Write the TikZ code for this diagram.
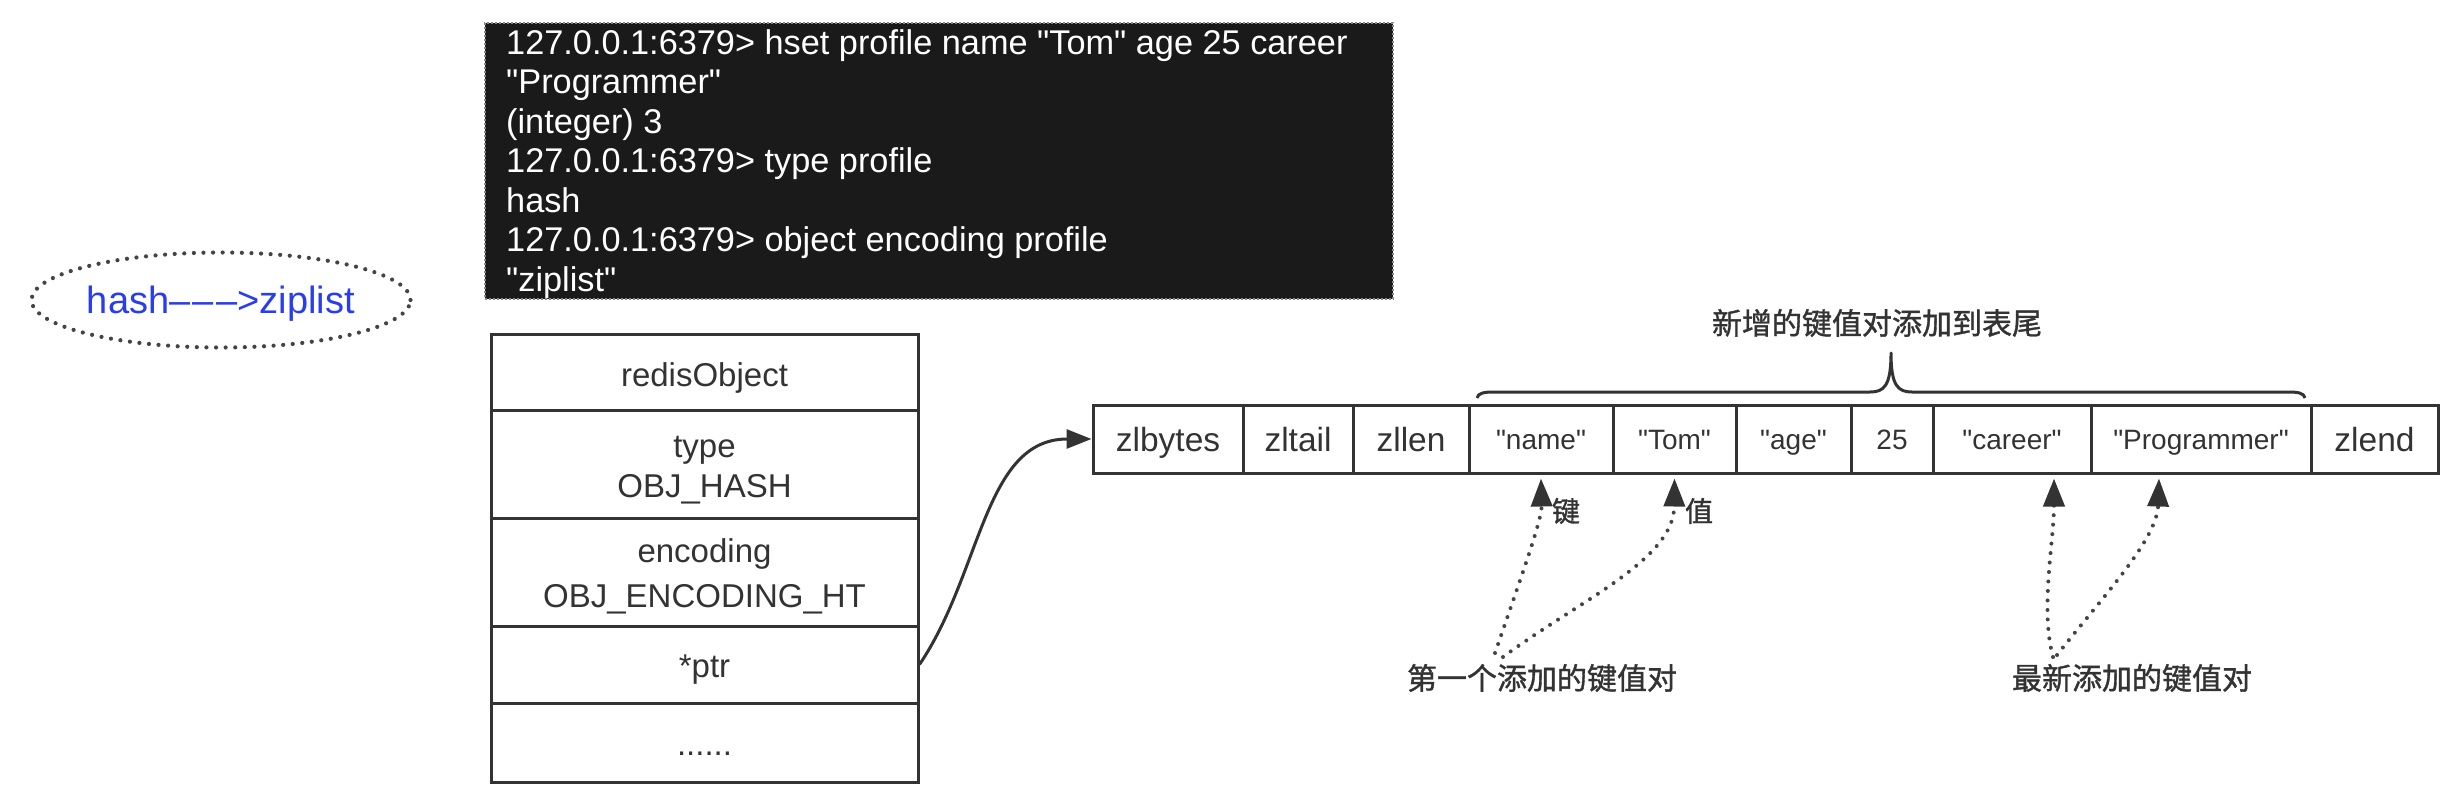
\documentclass[tikz,border=0pt]{standalone}
\usepackage{fontspec}
\setmainfont{Liberation Sans}[Ligatures=TeXOff]
\newfontfamily\cjk{Noto Sans CJK SC}[FakeBold=1.2]
\usetikzlibrary{arrows.meta,shapes.geometric}
\definecolor{ink}{HTML}{333333}
\definecolor{dotc}{HTML}{444444}
\definecolor{termbg}{HTML}{1A1A1A}
\definecolor{termedge}{HTML}{8A8A8A}
\definecolor{hblue}{RGB}{40,60,240}
\begin{document}
\begin{tikzpicture}[x=1pt,y=-1pt,
  zcell/.style={draw=ink, line width=3pt, inner sep=0pt, text=ink, minimum height=68pt, text depth=0pt},
  bigtxt/.style={font=\fontsize{33.5}{40}\selectfont, text height=24pt},
  smalltxt/.style={font=\fontsize{28}{34}\selectfont, text height=20pt},
  rcell/.style={draw=ink, line width=3pt, inner sep=0pt, minimum width=427pt},
  rtxt/.style={anchor=base, inner sep=0pt, text=ink, font=\fontsize{33}{40}\selectfont},
  ttxt/.style={anchor=base west, inner sep=0pt, text=white, font=\fontsize{34.3}{40}\selectfont},
  cjktxt/.style={inner sep=0pt, text=ink, font=\cjk\fontsize{30}{36}\selectfont},
  dotarrow/.style={draw=dotc, line width=4pt, dash pattern=on 0pt off 9.5pt, line cap=round,
    -{Triangle[length=28pt,width=21pt,color=ink]}},
]
\path[fill=white] (0,0) rectangle (2458,806);
\useasboundingbox (0,0) rectangle (2458,806);

% ellipse
\node[ellipse, draw=dotc, line width=4.2pt, dash pattern=on 0pt off 9.6pt, line cap=round,
  minimum width=372pt, minimum height=95pt, inner sep=0pt, text=hblue,
  font=\fontsize{38}{44}\selectfont, text height=27pt, text depth=0pt] (ell) at (221,300)
  {hash–\kern2.5pt–\kern2.5pt–>ziplist};

% terminal
\node[draw=termedge, fill=termbg, line width=2.5pt, dash pattern=on 2pt off 2pt,
  minimum width=908pt, minimum height=276pt, inner sep=0pt] (term) at (939,161) {};
\node[ttxt] (t1) at (506,54) {127.0.0.1:6379> hset profile name "Tom" age 25 career};
\node[ttxt] (t2) at (506,93.5) {"Programmer"};
\node[ttxt] (t3) at (506,133) {(integer) 3};
\node[ttxt] (t4) at (506,172.5) {127.0.0.1:6379> type profile};
\node[ttxt] (t5) at (506,212) {hash};
\node[ttxt] (t6) at (506,251.5) {127.0.0.1:6379> object encoding profile};
\node[ttxt] (t7) at (506,291) {"ziplist"};

% redisObject
\node[rcell, minimum height=76pt] (r1) at (704.5,372) {};
\node[rcell, minimum height=108pt] (r2) at (704.5,464) {};
\node[rcell, minimum height=108pt] (r3) at (704.5,572) {};
\node[rcell, minimum height=77pt] (r4) at (704.5,664.5) {};
\node[rcell, minimum height=79pt] (r5) at (704.5,742.5) {};
\node[rtxt] (r1t) at (704.5,386) {redisObject};
\node[rtxt] (r2a) at (704.5,457) {type};
\node[rtxt] (r2b) at (704.5,497) {OBJ\_HASH};
\node[rtxt] (r3a) at (704.5,562) {encoding};
\node[rtxt] (r3b) at (704.5,607) {OBJ\_ENCODING\_HT};
\node[rtxt] (r4t) at (704.5,677) {*ptr};
\node[rtxt] (r5t) at (704.5,755) {......};

% ziplist
\node[zcell, bigtxt, minimum width=150pt] (zlbytes) at (1168,439) {zlbytes};
\node[zcell, bigtxt, minimum width=110pt] (zltail) at (1298,439) {zltail};
\node[zcell, bigtxt, minimum width=116pt] (zllen) at (1411,439) {zllen};
\node[zcell, smalltxt, minimum width=144pt] (kname) at (1541,439) {"name"};
\node[zcell, smalltxt, minimum width=123pt] (vtom) at (1674.5,439) {"Tom"};
\node[zcell, smalltxt, minimum width=115pt] (kage) at (1793.5,439) {"age"};
\node[zcell, smalltxt, minimum width=82pt] (v25) at (1892,439) {25};
\node[zcell, smalltxt, minimum width=158pt] (kcareer) at (2012,439) {"career"};
\node[zcell, smalltxt, minimum width=220pt] (vprog) at (2201,439) {"Programmer"};
\node[zcell, bigtxt, minimum width=127pt] (zlend) at (2374.5,439) {zlend};

% pointer
\draw[ink, line width=3pt, -{Triangle[length=25pt,width=19pt]}]
  (r4.east) .. controls (982,572) and (984,439) .. (zlbytes.west);

% brace
\draw[ink, line width=3pt, line join=round]
  (1477,398) .. controls (1478,393) and (1484,392) .. (1494,392) -- (1870,392)
  .. controls (1884,392) and (1891,386) .. (1891,353)
  .. controls (1891,386) and (1898,392) .. (1912,392) -- (2288,392)
  .. controls (2298,392) and (2304,393) .. (2305,398);
\node[cjktxt] (bracelabel) at (1877,323) {新增的键值对添加到表尾};

% labels
\node[cjktxt, font=\cjk\fontsize{28}{34}\selectfont] (jian) at (1566,511) {键};
\node[cjktxt, font=\cjk\fontsize{28}{34}\selectfont] (zhi) at (1699,511) {值};
\node[cjktxt] (first) at (1542,678) {第一个添加的键值对};
\node[cjktxt] (latest) at (2132,678) {最新添加的键值对};

\coordinate (f1) at (1495,653);
\coordinate (f2) at (1503,657);
\coordinate (l1) at (2053,657);
\coordinate (l2) at (2057,655);

\draw[dotarrow] (f1) .. controls (1520,580) and (1542,520) .. ([yshift=-4pt]kname.south);
\draw[dotarrow] (f2) .. controls (1580,600) and (1674,560) .. ([yshift=-4pt]vtom.south);
\draw[dotarrow] (l1) .. controls (2040,610) and (2054,540) .. ([xshift=42pt,yshift=-4pt]kcareer.south);
\draw[dotarrow] (l2) .. controls (2100,600) and (2157,540) .. ([xshift=-42pt,yshift=-4pt]vprog.south);
\end{tikzpicture}
\end{document}
